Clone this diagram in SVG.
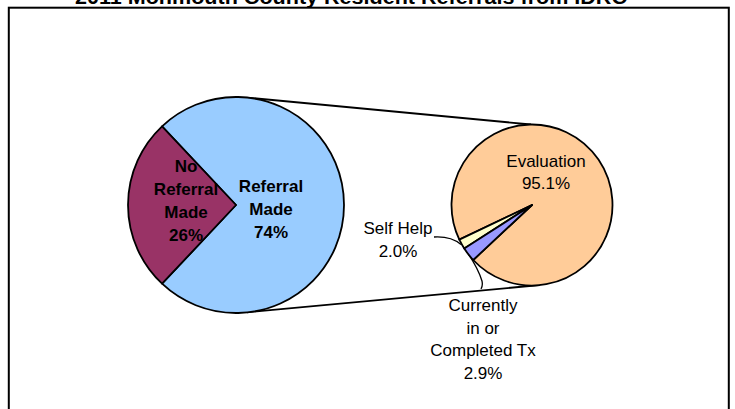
<svg xmlns="http://www.w3.org/2000/svg" width="735" height="409" viewBox="0 0 735 409">
<style>
.edge{stroke:#000;stroke-width:1.8;stroke-linejoin:round}
.conn{fill:none;stroke:#000;stroke-width:1.8}
.lead{fill:none;stroke:#000;stroke-width:1.3}
.lbl{font-family:"Liberation Sans",Arial,sans-serif;font-size:17px;fill:#000;text-anchor:middle}
.bold{font-weight:bold}
</style>
<rect x="0" y="0" width="735" height="409" fill="#fff"/>
<text x="351" y="3.5" font-family="Liberation Sans, Arial, sans-serif" font-size="21" font-weight="bold" text-anchor="middle" textLength="552" lengthAdjust="spacingAndGlyphs">2011 Monmouth County Resident Referrals from IDRC</text>
<rect x="8.8" y="7.7" width="720" height="430" fill="none" stroke="#000" stroke-width="2"/>
<g id="connectors">
<line class="conn" x1="250" y1="97.9" x2="531" y2="124.5"/>
<line class="conn" x1="247" y1="312.3" x2="540" y2="285"/>
<path class="lead" d="M434,237 Q451,236 461,244.5"/>
<path class="lead" d="M467,252 Q478,268 482,281 Q483,286 481,289"/>
</g>
<g id="referral-made">
<path class="edge" fill="#99CCFF" d="M236,205 L162.06,283.71 A108,108 0 1 0 162.06,126.29 Z"/>
<text class="lbl bold" x="271" y="192">Referral</text>
<text class="lbl bold" x="271" y="215">Made</text>
<text class="lbl bold" x="271" y="238">74%</text>
</g>
<g id="no-referral-made">
<path class="edge" fill="#993366" d="M236,205 L162.06,126.29 A108,108 0 0 0 162.06,283.71 Z"/>
<text class="lbl bold" x="186" y="172">No</text>
<text class="lbl bold" x="186" y="195">Referral</text>
<text class="lbl bold" x="186" y="218">Made</text>
<text class="lbl bold" x="186" y="241">26%</text>
</g>
<g id="evaluation">
<path class="edge" fill="#FFCC99" d="M532,205 L473.22,260 A80.5,80.5 0 1 0 459.34,239.66 Z"/>
<text class="lbl" x="546" y="167">Evaluation</text>
<text class="lbl" x="546" y="189">95.1%</text>
</g>
<g id="self-help">
<path class="edge" fill="#FFFFCC" d="M532,205 L459.34,239.66 A80.5,80.5 0 0 0 464.26,248.49 Z"/>
<text class="lbl" x="398" y="234">Self Help</text>
<text class="lbl" x="398" y="256.5">2.0%</text>
</g>
<g id="currently-in-or-completed-tx">
<path class="edge" fill="#9999FF" d="M532,205 L464.26,248.49 A80.5,80.5 0 0 0 473.22,260 Z"/>
<text class="lbl" x="483" y="311">Currently</text>
<text class="lbl" x="483" y="333.5">in or</text>
<text class="lbl" x="483" y="356">Completed Tx</text>
<text class="lbl" x="483" y="379">2.9%</text>
</g>
</svg>
